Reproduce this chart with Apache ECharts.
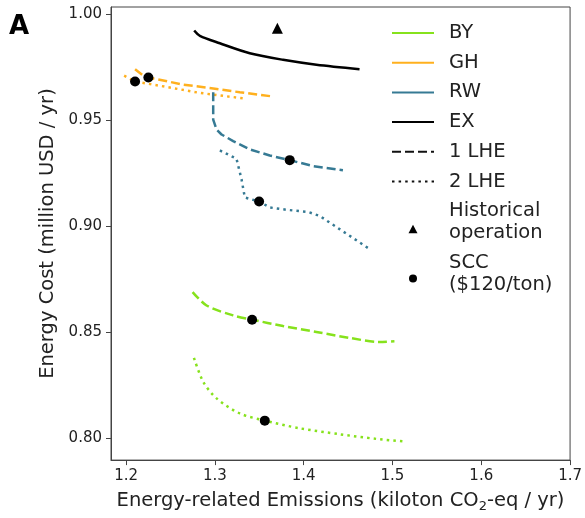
<!DOCTYPE html>
<html>
<head>
<meta charset="utf-8">
<script src="https://cdn.jsdelivr.net/npm/echarts@6/dist/echarts.min.js"></script>
<style>
html,body{margin:0;padding:0;background:#fff;}
#chart{width:585px;height:518px;}
</style>
</head>
<body>
<div id="chart"></div>
<script>
const xTicks = [1.2, 1.3, 1.4, 1.5, 1.6, 1.7];
const yTicks = [0.80, 0.85, 0.90, 0.95, 1.00];

const exSolid = [[1.2767,0.9922],[1.2831,0.9897],[1.3056,0.9862],[1.3393,0.9815],[1.3768,0.9784],[1.4143,0.9761],[1.4629,0.9740]];
const ghDashed = [[1.2101,0.9740],[1.2195,0.9709],[1.2251,0.9701],[1.2644,0.9667],[1.2981,0.9649],[1.3281,0.9631],[1.3637,0.9612]];
const ghDotted = [[1.1978,0.9709],[1.2101,0.9682],[1.2457,0.9656],[1.2831,0.9628],[1.3131,0.9612],[1.3337,0.9602]];
const rwDashed = [[1.2981,0.9631],[1.2981,0.9540],[1.2981,0.9502],[1.3019,0.9455],[1.3075,0.9432],[1.3206,0.9401],[1.3393,0.9362],[1.3618,0.9333],[1.3843,0.9311],[1.4105,0.9283],[1.4442,0.9263]];
const rwDotted = [[1.3056,0.9357],[1.3243,0.9318],[1.3300,0.9221],[1.3337,0.9135],[1.3498,0.9116],[1.3618,0.9088],[1.3806,0.9077],[1.4049,0.9067],[1.4180,0.9048],[1.4404,0.8986],[1.4742,0.8892]];
const byDashed = [[1.2749,0.8689],[1.2906,0.8626],[1.3206,0.8579],[1.3419,0.8559],[1.3768,0.8529],[1.4143,0.8501],[1.4517,0.8473],[1.4854,0.8454],[1.5022,0.8457]];
const byDotted = [[1.2764,0.8379],[1.2869,0.8266],[1.3019,0.8188],[1.3281,0.8117],[1.3562,0.8083],[1.3955,0.8047],[1.4404,0.8019],[1.4817,0.7997],[1.5154,0.7984]];
const historical = [[1.3704,0.9933]];
const scc = [[1.2251,0.9701],[1.2101,0.9682],[1.3843,0.9311],[1.3498,0.9116],[1.3419,0.8559],[1.3562,0.8083]];

const lineLegendNames = ['BY','GH','RW','EX','1 LHE','2 LHE'];
const markLegendNames = ['Historical operation','SCC ($120/ton)'];

const C_BY = '#86e21c', C_GH = '#ffb01e', C_RW = '#367a94', C_EX = '#000000';
const LW = 2.5;
const DASH = [9, 4], DOT = [2.5, 4.1];
const FONT = 'DejaVu Sans';

// legend icon boxes are 42 x 22; the invisible corner points fix the box so the mark keeps its shape
const ICON_TRIANGLE = 'path://M0,0L0,0M42,22L42,22M16.5,22L21,13.5L25.5,22Z';
const ICON_CIRCLE = 'path://M0,0L0,0M42,22L42,22M25,15.6A4,4 0 1 1 17,15.6A4,4 0 1 1 25,15.6Z';

function lineSeries(name, data, color, type, smooth) {
  return {
    name: name, type: 'line', data: data, symbol: 'none', smooth: smooth || false,
    lineStyle: { color: color, width: LW, type: type }, itemStyle: { color: color },
    z: 2, silent: true
  };
}

const legendData = lineLegendNames.map(n => ({ name: n, itemStyle: { opacity: 0 } }))
  .concat([
    { name: markLegendNames[0], icon: ICON_TRIANGLE },
    { name: markLegendNames[1], icon: ICON_CIRCLE }
  ]);

const chart = echarts.init(document.getElementById('chart'));
chart.setOption({
  animation: false,
  textStyle: { fontFamily: FONT },
  grid: { left: 111, right: 14, top: 7, bottom: 56, show: true, borderColor: '#444', borderWidth: 1, containLabel: false },
  graphic: [{ type: 'text', left: 9, top: 14, style: { text: 'A', font: 'bold 26px "DejaVu Sans"', fill: '#000' } }],
  legend: {
    data: legendData, orient: 'vertical', left: 391, top: 22, padding: 0,
    itemWidth: 42, itemHeight: 22, itemGap: 7.7,
    textStyle: { fontFamily: FONT, fontSize: 19.5, lineHeight: 22, color: '#222', padding: [0, 0, 0, 10] },
    formatter: function (n) {
      if (n === 'Historical operation') return 'Historical\noperation';
      if (n === 'SCC ($120/ton)') return 'SCC\n($120/ton)';
      return n;
    },
    selectedMode: false
  },
  xAxis: {
    type: 'value', min: 1.183, max: 1.7,
    name: 'Energy-related Emissions (kiloton CO{sub|2}-eq / yr)',
    nameLocation: 'middle', nameGap: 27,
    nameTextStyle: { fontFamily: FONT, fontSize: 19.5, color: '#222', lineHeight: 24,
      rich: { sub: { fontFamily: FONT, fontSize: 13, lineHeight: 14, verticalAlign: 'bottom', color: '#222' } } },
    axisLine: { show: true, lineStyle: { color: '#444', width: 1 } },
    axisTick: { show: true, customValues: xTicks, length: 5, lineStyle: { color: '#444' } },
    axisLabel: { customValues: xTicks, formatter: v => v.toFixed(1), fontFamily: FONT, fontSize: 15, color: '#222', margin: 9 },
    splitLine: { show: false }
  },
  yAxis: {
    type: 'value', min: 0.7897, max: 1.0033,
    name: 'Energy Cost (million USD / yr)',
    nameLocation: 'middle', nameGap: 40, nameRotate: 90,
    nameTextStyle: { fontFamily: FONT, fontSize: 19.5, color: '#222' },
    axisLine: { show: true, lineStyle: { color: '#444', width: 1 } },
    axisTick: { show: true, customValues: yTicks, length: 5, lineStyle: { color: '#444' } },
    axisLabel: { customValues: yTicks, formatter: v => v.toFixed(2), fontFamily: FONT, fontSize: 15, color: '#222', margin: 9 },
    splitLine: { show: false }
  },
  series: [
    lineSeries('BY', [], C_BY, 'solid'),
    lineSeries('GH', [], C_GH, 'solid'),
    lineSeries('RW', [], C_RW, 'solid'),
    lineSeries('EX', exSolid, C_EX, 'solid', 0.3),
    lineSeries('1 LHE', [], '#111', DASH),
    lineSeries('2 LHE', [], '#111', DOT),
    lineSeries('BY 1 LHE', byDashed, C_BY, DASH, 0.3),
    lineSeries('BY 2 LHE', byDotted, C_BY, DOT, 0.3),
    lineSeries('GH 1 LHE', ghDashed, C_GH, DASH),
    lineSeries('GH 2 LHE', ghDotted, C_GH, DOT),
    lineSeries('RW 1 LHE', rwDashed, C_RW, DASH),
    lineSeries('RW 2 LHE', rwDotted, C_RW, DOT),
    { name: 'Historical operation', type: 'scatter', data: historical, symbol: 'triangle', symbolSize: 11,
      itemStyle: { color: '#000', opacity: 1 }, z: 5, silent: true },
    { name: 'SCC ($120/ton)', type: 'scatter', data: scc, symbol: 'circle', symbolSize: 10,
      itemStyle: { color: '#000', opacity: 1 }, z: 5, silent: true }
  ]
});
</script>
</body>
</html>
